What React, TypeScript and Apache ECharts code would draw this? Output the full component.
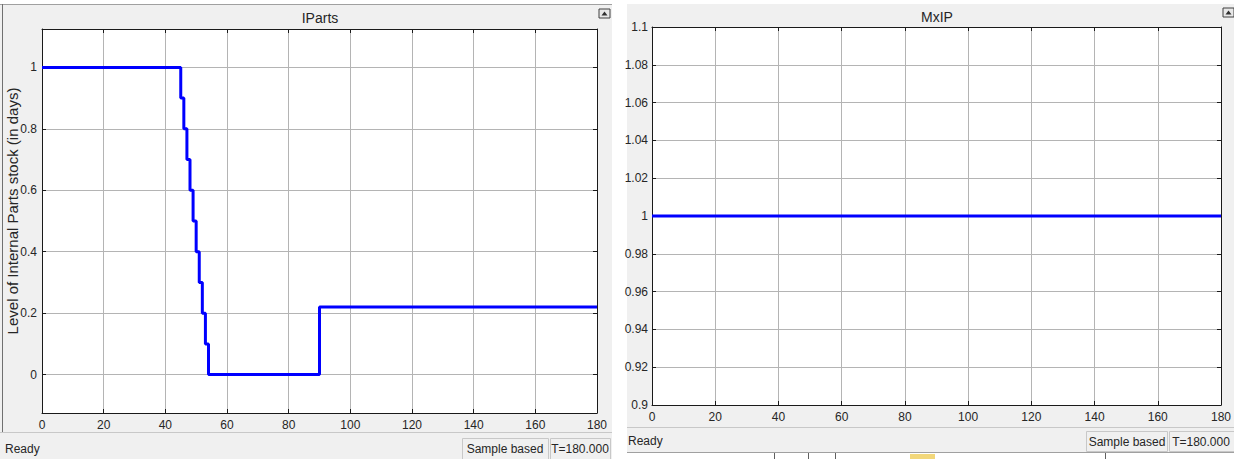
import React, { useEffect, useRef } from "react";
import * as echarts from "echarts";

// ---- data ----
const partsTimes = [0, 45, 46, 47, 48, 49, 50, 51, 52, 53, 54, 90, 180];
const partsLevels = [1, 0.9, 0.8, 0.7, 0.6, 0.5, 0.4, 0.3, 0.2, 0.1, 0, 0.22, 0.22];
const mxipTimes = [0, 180];
const mxipLevels = [1, 1];
const leftTitle = "IParts";
const rightTitle = "MxIP";
const leftYName = "Level of Internal Parts stock (in days)";
const statusTexts = ["Ready", "Sample based", "T=180.000"];

const FONT = "'Liberation Sans', Arial, sans-serif";
const TXT = "#262626";
const GRID = "#b4b4b4";

function xAxisCfg(gridIndex: number, top: boolean) {
  return {
    type: "value",
    gridIndex,
    position: top ? "top" : "bottom",
    min: 0,
    max: 180,
    interval: 20,
    axisLine: { show: true, onZero: false, lineStyle: { color: "#1a1a1a", width: 1 } },
    axisTick: { show: true, inside: true, length: 4, lineStyle: { color: "#1a1a1a" } },
    axisLabel: top
      ? { show: false }
      : { show: true, margin: 6, color: TXT, fontSize: 12, fontFamily: FONT },
    splitLine: top ? { show: false } : { show: true, lineStyle: { color: GRID, width: 1 } },
  };
}

function txt(x: number, y: number, text: string, size: number, align: string, extra: any = {}) {
  return {
    type: "text",
    x,
    y,
    ...extra,
    style: {
      text,
      font: `${size}px ${FONT}`,
      fill: TXT,
      align,
      verticalAlign: "middle",
      textAlign: align,
      textVerticalAlign: "middle",
    },
  };
}

export default function App() {
  const ref = useRef<HTMLDivElement>(null);
  useEffect(() => {
    document.body.style.margin = "0";
    if (!ref.current) return;
    const chart = echarts.init(ref.current, undefined, { renderer: "svg" });
    const leftData = partsTimes.map((t, i) => [t, partsLevels[i]]);
    const rightData = mxipTimes.map((t, i) => [t, mxipLevels[i]]);
    const option: any = {
      animation: false,
      backgroundColor: "#ffffff",
      grid: [
        { left: 42, top: 29, width: 555, height: 384, show: false },
        { left: 652, top: 27, width: 569, height: 378, show: false },
      ],
      xAxis: [xAxisCfg(0, false), xAxisCfg(0, true), xAxisCfg(1, false), xAxisCfg(1, true)],
      yAxis: [
        {
          type: "value",
          gridIndex: 0,
          min: -0.125,
          max: 1.125,
          splitNumber: 6,
          axisLine: { show: true, onZero: false, lineStyle: { color: "#1a1a1a" } },
          axisTick: { show: true, inside: true, length: 4, lineStyle: { color: "#1a1a1a" } },
          axisLabel: { margin: 5, color: TXT, fontSize: 12, fontFamily: FONT, showMinLabel: false, showMaxLabel: false },
          splitLine: { show: true, lineStyle: { color: GRID } },
        },
        {
          type: "value",
          gridIndex: 0,
          position: "right",
          min: -0.125,
          max: 1.125,
          splitNumber: 6,
          axisLine: { show: true, onZero: false, lineStyle: { color: "#1a1a1a" } },
          axisTick: { show: true, inside: true, length: 4, lineStyle: { color: "#1a1a1a" } },
          axisLabel: { show: false },
          splitLine: { show: false },
        },
        {
          type: "value",
          gridIndex: 1,
          min: 0.9,
          max: 1.1,
          interval: 0.02,
          axisLine: { show: true, onZero: false, lineStyle: { color: "#1a1a1a" } },
          axisTick: { show: true, inside: true, length: 4, lineStyle: { color: "#1a1a1a" } },
          axisLabel: { margin: 4, color: TXT, fontSize: 12, fontFamily: FONT },
          splitLine: { show: true, lineStyle: { color: GRID } },
        },
        {
          type: "value",
          gridIndex: 1,
          position: "right",
          min: 0.9,
          max: 1.1,
          interval: 0.02,
          axisLine: { show: true, onZero: false, lineStyle: { color: "#1a1a1a" } },
          axisTick: { show: true, inside: true, length: 4, lineStyle: { color: "#1a1a1a" } },
          axisLabel: { show: false },
          splitLine: { show: false },
        },
      ],
      series: [
        {
          type: "line",
          xAxisIndex: 0,
          yAxisIndex: 0,
          step: "end",
          data: leftData,
          showSymbol: false,
          symbol: "none",
          lineStyle: { color: "#0000ff", width: 3 },
          z: 5,
        },
        {
          type: "line",
          xAxisIndex: 2,
          yAxisIndex: 2,
          data: rightData,
          showSymbol: false,
          symbol: "none",
          lineStyle: { color: "#0000ff", width: 3 },
          z: 5,
        },
      ],
      graphic: [
        // panel backgrounds
        { type: "rect", z: -10, shape: { x: 0, y: 4, width: 612, height: 455 }, style: { fill: "#f0f0f0" } },
        { type: "rect", z: -10, shape: { x: 627, y: 4, width: 607, height: 448 }, style: { fill: "#f0f0f0" } },
        { type: "rect", z: -9, shape: { x: 42, y: 29, width: 555, height: 384 }, style: { fill: "#ffffff" } },
        { type: "rect", z: -9, shape: { x: 652, y: 27, width: 569, height: 378 }, style: { fill: "#ffffff" } },
        { type: "line", z: -9, shape: { x1: 0, y1: 4.5, x2: 612, y2: 4.5 }, style: { stroke: "#a0a0a0", lineWidth: 1 } },
        { type: "line", z: -9, shape: { x1: 2.5, y1: 4, x2: 2.5, y2: 432 }, style: { stroke: "#707070", lineWidth: 1 } },
        // y-axis name (left chart)
        txt(12, 211, leftYName, 15, "center", { rotation: Math.PI / 2 }),
        // titles
        txt(320, 18, leftTitle, 14, "center"),
        txt(937, 17, rightTitle, 14, "center"),
        // icons
        { type: "rect", shape: { x: 599, y: 9, width: 11, height: 9 }, style: { fill: "#e8e8e8", stroke: "#404040", lineWidth: 1 } },
        { type: "polygon", shape: { points: [[601.5, 15.5], [604.5, 11.5], [607.5, 15.5]] }, style: { fill: "#303030" } },
        { type: "rect", shape: { x: 1223, y: 8, width: 11, height: 9 }, style: { fill: "#e8e8e8", stroke: "#404040", lineWidth: 1 } },
        { type: "polygon", shape: { points: [[1225.5, 14.5], [1228.5, 10.5], [1231.5, 14.5]] }, style: { fill: "#303030" } },
        // left status bar
        { type: "line", shape: { x1: 0, y1: 432.5, x2: 612, y2: 432.5 }, style: { stroke: "#c8c8c8", lineWidth: 1 } },
        txt(5, 449, statusTexts[0], 12, "left"),
        { type: "rect", shape: { x: 462.5, y: 438.5, width: 86, height: 21 }, style: { fill: "#f0f0f0", stroke: "#c8c8c8", lineWidth: 1 } },
        txt(505, 449, statusTexts[1], 12, "center"),
        { type: "rect", shape: { x: 550.5, y: 438.5, width: 60, height: 21 }, style: { fill: "#f0f0f0", stroke: "#c8c8c8", lineWidth: 1 } },
        txt(580, 449, statusTexts[2], 12, "center"),
        // right status bar
        { type: "line", shape: { x1: 627, y1: 427.5, x2: 1234, y2: 427.5 }, style: { stroke: "#c8c8c8", lineWidth: 1 } },
        txt(628, 441, statusTexts[0], 12, "left"),
        { type: "rect", shape: { x: 1086.5, y: 431.5, width: 81, height: 20 }, style: { fill: "#f0f0f0", stroke: "#c8c8c8", lineWidth: 1 } },
        txt(1127, 442, statusTexts[1], 12, "center"),
        { type: "rect", shape: { x: 1169.5, y: 431.5, width: 66, height: 20 }, style: { fill: "#f0f0f0", stroke: "#c8c8c8", lineWidth: 1 } },
        txt(1201, 442, statusTexts[2], 12, "center"),
        // bottom strip under right panel
        { type: "line", shape: { x1: 627, y1: 452.5, x2: 1234, y2: 452.5 }, style: { stroke: "#a0a0a0", lineWidth: 1 } },
        { type: "rect", shape: { x: 910, y: 454, width: 25, height: 5 }, style: { fill: "#f2d77a" } },
        { type: "line", shape: { x1: 774.5, y1: 453, x2: 774.5, y2: 459 }, style: { stroke: "#606060" } },
        { type: "line", shape: { x1: 808.5, y1: 453, x2: 808.5, y2: 459 }, style: { stroke: "#606060" } },
        { type: "line", shape: { x1: 835.5, y1: 453, x2: 835.5, y2: 459 }, style: { stroke: "#606060" } },
        { type: "line", shape: { x1: 1105.5, y1: 453, x2: 1105.5, y2: 459 }, style: { stroke: "#606060" } },
      ],
    };
    chart.setOption(option);
    return () => chart.dispose();
  }, []);
  return <div ref={ref} style={{ width: 1234, height: 459 }} />;
}
